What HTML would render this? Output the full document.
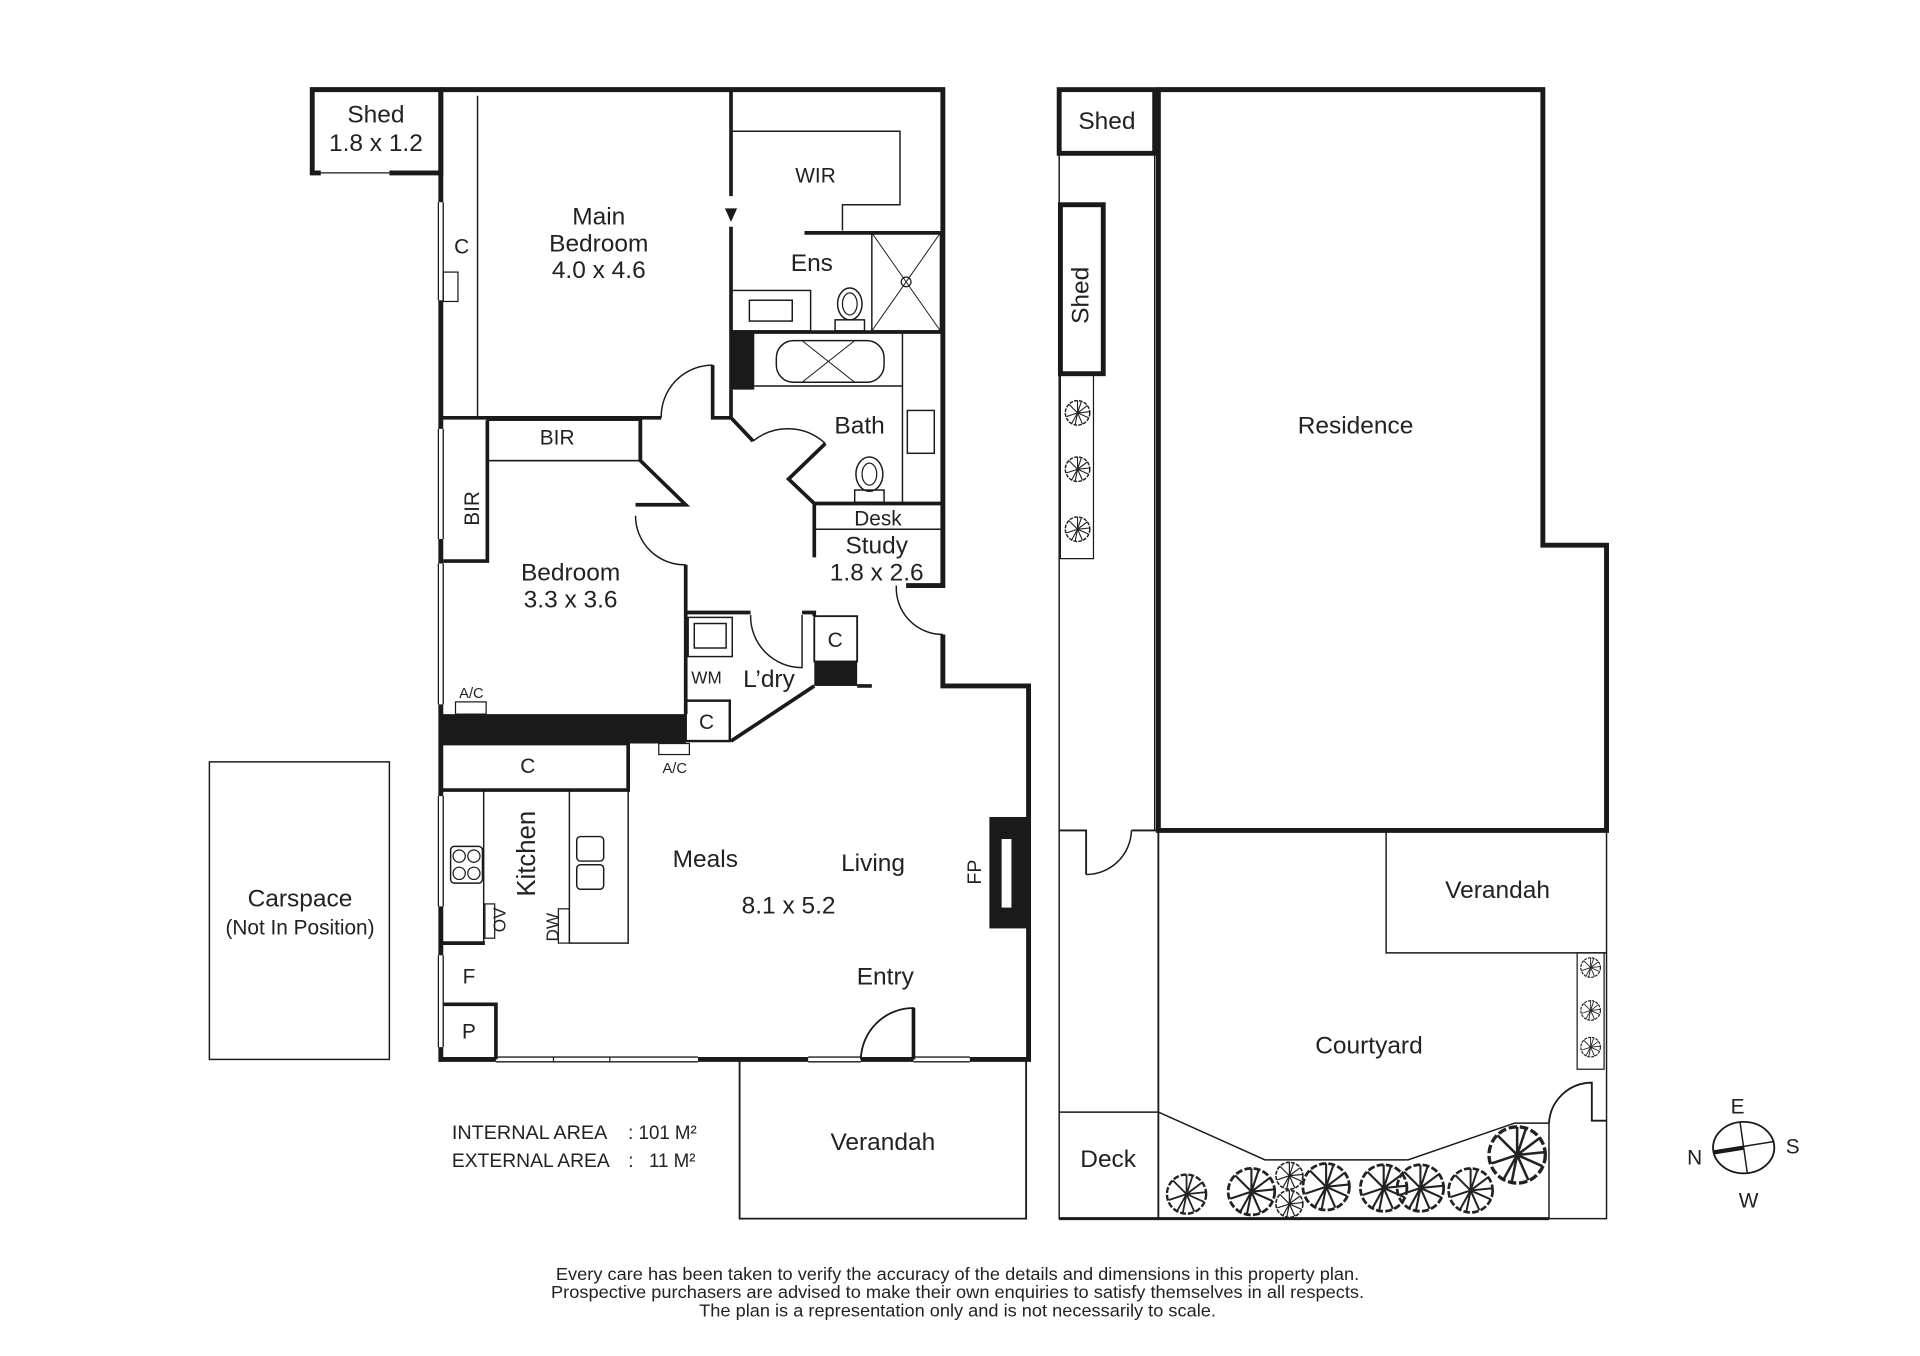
<!DOCTYPE html>
<html><head><meta charset="utf-8"><style>
html,body{margin:0;padding:0;background:#fff;}
svg{display:block;}
text{font-family:"Liberation Sans",Arial,sans-serif;fill:#222;}
</style></head><body>
<svg width="1920" height="1356" viewBox="0 0 1568 1107" xmlns="http://www.w3.org/2000/svg">
<defs>
<g id="tr"><circle r="10" fill="none" stroke="#222" stroke-width="1.2" stroke-dasharray="3 1"/>
<path d="M0 0L0-10M0 0L8-6M0 0L9 4M0 0L4 9M0 0L-5 9M0 0L-9 3M0 0L-7-7M0 0L3-9M0 0L-2 10M0 0L10-1" stroke="#222" stroke-width="0.9"/></g>
</defs>
<g fill="none" stroke="#1a1a1a" stroke-linejoin="miter">
<path d="M262 141H255V73H360V141H318" stroke-width="4"/>
<line x1="262" y1="141" x2="318" y2="141" stroke-width="1"/>
<path d="M360 73H770V478H740" stroke-width="4"/>
<path d="M770 518V560H840V865H360V73" stroke-width="4"/>
<g stroke="#fff" stroke-width="3"><line x1="360" y1="165" x2="360" y2="245"/><line x1="360" y1="350" x2="360" y2="440"/><line x1="360" y1="460" x2="360" y2="575"/><line x1="360" y1="650" x2="360" y2="740"/><line x1="360" y1="780" x2="360" y2="855"/>
<line x1="405" y1="865" x2="570" y2="865"/><line x1="660" y1="865" x2="703" y2="865"/><line x1="746" y1="865" x2="792" y2="865"/></g>
<g stroke-width="1"><path d="M358 165V245M362 165V245M358 350V440M362 350V440M358 460V575M362 460V575M358 650V740M362 650V740M358 780V855M362 780V855"/>
<path d="M405 863H570M405 867H570M660 863H703M660 867H703M746 863H792M746 867H792M452 863V867M498 863V867"/></g>
<rect x="362" y="222" width="12" height="24" stroke-width="1"/>
<line x1="390" y1="78" x2="390" y2="340" stroke-width="1.2"/>
<path d="M597 73V160M597 185V318" stroke-width="3"/>
<path d="M592 170H602L597 181Z" fill="#1a1a1a" stroke="none"/>
<path d="M597 107H735V167H688V188" stroke-width="1.2"/>
<path d="M657 190H768" stroke-width="3"/>
<rect x="712" y="190" width="56" height="80" stroke-width="1.2"/>
<path d="M712 190L768 270M768 190L712 270" stroke-width="0.8"/>
<circle cx="740" cy="230" r="4" stroke-width="1"/>
<rect x="597" y="237" width="65" height="33" stroke-width="1.2"/>
<rect x="612" y="245" width="35" height="17" stroke-width="1.2"/>
<ellipse cx="694" cy="248" rx="10" ry="13" stroke-width="1.2"/><ellipse cx="694" cy="248" rx="6" ry="9" stroke-width="1"/>
<rect x="682" y="261" width="24" height="9" stroke-width="1.2"/>
<path d="M597 271H770" stroke-width="3"/>
<rect x="597" y="272" width="19" height="46" fill="#1a1a1a" stroke="none"/>
<rect x="634" y="278" width="88" height="34" rx="14" stroke-width="1.2"/>
<path d="M655 278L698 312M698 278L655 312" stroke-width="0.8"/>
<path d="M616 315H737M737 272V410" stroke-width="1.2"/>
<rect x="741" y="335" width="22" height="35" stroke-width="1.2"/>
<ellipse cx="710" cy="387" rx="11" ry="14" stroke-width="1.2"/><ellipse cx="710" cy="387" rx="6" ry="9" stroke-width="1"/>
<rect x="698" y="400" width="24" height="10" stroke-width="1.2"/>
<path d="M597 318V341L615 360M674 362L644 391L665 411H770" stroke-width="3"/>
<path d="M615 360A45 45 0 0 1 674 362" stroke-width="1.2"/>
<path d="M665 411V455" stroke-width="3"/>
<line x1="665" y1="432" x2="770" y2="432" stroke-width="1.2"/>
<path d="M732 478A38 38 0 0 0 770 518" stroke-width="1.2"/>
<path d="M360 341H540M582 298V341H597" stroke-width="3"/>
<path d="M540 341A42 42 0 0 1 582 298" stroke-width="1.2"/>
<path d="M523 341V376L560 412H519M560 461V583" stroke-width="3"/>
<path d="M519 421A40 40 0 0 0 560 461" stroke-width="1.2"/>
<rect x="398" y="343" width="124" height="33" stroke-width="1.2"/>
<path d="M398 343V458H362" stroke-width="3"/>
<path d="M398 376H522" stroke-width="1.2"/>
<path d="M560 500H613M655 500H665V503" stroke-width="3"/>
<rect x="562" y="504" width="36" height="32" stroke-width="1.2"/><rect x="567" y="509" width="26" height="20" stroke-width="1.2"/>
<path d="M613 502A42 42 0 0 0 655 545V502" stroke-width="1.2"/>
<rect x="665" y="503" width="35" height="37" stroke-width="1.5"/>
<rect x="665" y="540" width="35" height="20" fill="#1a1a1a" stroke="none"/>
<path d="M700 560H712M665 560L597 605" stroke-width="3"/>
<rect x="560" y="572" width="36" height="33" stroke-width="2"/>
<rect x="360" y="583" width="200" height="24" fill="#1a1a1a" stroke="none"/>
<rect x="372" y="573" width="25" height="10" stroke-width="1"/>
<rect x="538" y="607" width="25" height="9" stroke-width="1"/>
<path d="M360 645H513V607M360 607H513" stroke-width="3"/>
<path d="M395 645V770M360 770H395" stroke-width="1.2"/>
<path d="M360 770H396" stroke-width="3"/>
<rect x="465" y="645" width="48" height="125" stroke-width="1.2"/>
<rect x="456" y="742" width="9" height="28" stroke-width="1"/>
<rect x="396" y="738" width="8" height="28" stroke-width="1"/>
<rect x="368" y="691" width="26" height="30" rx="3" stroke-width="1.2"/>
<circle cx="375" cy="699" r="5" stroke-width="1"/><circle cx="387" cy="699" r="5" stroke-width="1"/><circle cx="375" cy="713" r="5" stroke-width="1"/><circle cx="387" cy="713" r="5" stroke-width="1"/>
<rect x="471" y="683" width="22" height="20" rx="3" stroke-width="1.2"/><rect x="471" y="706" width="22" height="20" rx="3" stroke-width="1.2"/>
<path d="M362 820H405V865" stroke-width="3"/>
<path d="M703 865A43 43 0 0 1 746 823V865" stroke-width="1.5"/>
<path d="M746 823V865" stroke-width="3"/>
<rect x="808" y="667" width="32" height="91" fill="#1a1a1a" stroke="none"/>
<rect x="818" y="685" width="8" height="56" fill="#fff" stroke="none"/>
<path d="M604 866V995H838V866" stroke-width="1.5"/>
<rect x="171" y="622" width="147" height="243" stroke-width="1.2"/>

<rect x="865" y="73" width="78" height="52" stroke-width="4"/>
<rect x="866" y="167" width="35" height="138" stroke-width="4"/>
<path d="M866 305V456H893V305" stroke-width="1"/>
<path d="M946 73H1260V445H1312V678H946Z" stroke-width="4"/>
<path d="M865 125V995H1312V678M943 125V678" stroke-width="1.2"/>
<path d="M865 678H887V714M924 678H946V995" stroke-width="1.5"/>
<path d="M887 714A37 37 0 0 0 924 678" stroke-width="1.2"/>
<path d="M1132 678V778H1312" stroke-width="1.2"/>
<rect x="1288" y="778" width="22" height="95" stroke-width="1"/>
<path d="M865 908H946" stroke-width="1.2"/>
<path d="M946 908L1033 947H1150L1237 917H1265V995" stroke-width="1.2"/>
<path d="M1265 917A35 35 0 0 1 1300 884V915H1312" stroke-width="1.5"/>
<path d="M865 995H1265" stroke-width="2.5"/>
<ellipse cx="1424" cy="937" rx="25" ry="21" stroke-width="1.5"/>
<path d="M1421 916L1427 958M1424 936L1449 932" stroke-width="1.2"/>
<path d="M1399 941L1424 937" stroke-width="3.5"/>
</g>
<g>
<use href="#tr" x="880" y="337"/><use href="#tr" x="880" y="383"/><use href="#tr" x="880" y="432"/>
<use href="#tr" transform="translate(1299 790) scale(.8)"/>
<use href="#tr" transform="translate(1299 825) scale(.8)"/>
<use href="#tr" transform="translate(1299 855) scale(.8)"/>
<use href="#tr" transform="translate(969 975) scale(1.6)"/>
<use href="#tr" transform="translate(1022 973) scale(1.9)"/>
<use href="#tr" transform="translate(1053 960) scale(1.1)"/>
<use href="#tr" transform="translate(1053 983) scale(1.1)"/>
<use href="#tr" transform="translate(1083 969) scale(1.9)"/>
<use href="#tr" transform="translate(1130 970) scale(1.9)"/>
<use href="#tr" transform="translate(1160 970) scale(1.9)"/>
<use href="#tr" transform="translate(1201 972) scale(1.8)"/>
<use href="#tr" transform="translate(1239 943) scale(2.3)"/>
</g>
<g font-size="20" text-anchor="middle">
<text x="307" y="100">Shed</text><text x="307" y="123">1.8 x 1.2</text>
<text x="489" y="183">Main</text><text x="489" y="205">Bedroom</text><text x="489" y="227">4.0 x 4.6</text>
<text x="377" y="207" font-size="17">C</text>
<text x="666" y="149" font-size="17">WIR</text>
<text x="663" y="221">Ens</text>
<text x="702" y="354">Bath</text>
<text x="717" y="429" font-size="17">Desk</text>
<text x="716" y="452">Study</text><text x="716" y="474">1.8 x 2.6</text>
<text x="455" y="363" font-size="17">BIR</text>
<text x="391" y="415" font-size="17" transform="rotate(-90 391 415)">BIR</text>
<text x="466" y="474">Bedroom</text><text x="466" y="496">3.3 x 3.6</text>
<text x="577" y="558" font-size="14">WM</text>
<text x="628" y="561">L’dry</text>
<text x="682" y="528" font-size="17">C</text>
<text x="577" y="595" font-size="17">C</text>
<text x="385" y="570" font-size="12">A/C</text>
<text x="551" y="631" font-size="12">A/C</text>
<text x="431" y="631" font-size="17">C</text>
<text x="437" y="697" font-size="21" transform="rotate(-90 437 697)">Kitchen</text>
<text x="413" y="751" font-size="14" transform="rotate(-90 413 751)">OV</text>
<text x="456" y="757" font-size="14" transform="rotate(-90 456 757)">DW</text>
<text x="576" y="708">Meals</text><text x="713" y="711">Living</text>
<text x="644" y="746">8.1 x 5.2</text>
<text x="801" y="712" font-size="16" transform="rotate(-90 801 712)">FP</text>
<text x="723" y="804">Entry</text>
<text x="383" y="803" font-size="17">F</text><text x="383" y="848" font-size="17">P</text>
<text x="721" y="939">Verandah</text>
<text x="245" y="740">Carspace</text><text x="245" y="763" font-size="17">(Not In Position)</text>
<text x="904" y="105">Shed</text>
<text x="889" y="241" transform="rotate(-90 889 241)">Shed</text>
<text x="1107" y="354">Residence</text>
<text x="1223" y="733">Verandah</text>
<text x="1118" y="860">Courtyard</text>
<text x="905" y="953">Deck</text>
<text x="1419" y="909" font-size="17">E</text><text x="1464" y="942" font-size="17">S</text>
<text x="1384" y="951" font-size="17">N</text><text x="1428" y="986" font-size="17">W</text>
</g>
<g font-size="16" fill="#222">
<text x="369" y="930" textLength="127" lengthAdjust="spacingAndGlyphs">INTERNAL AREA</text><text x="513" y="930" textLength="56" lengthAdjust="spacingAndGlyphs">: 101 M²</text>
<text x="369" y="953" textLength="129" lengthAdjust="spacingAndGlyphs">EXTERNAL AREA</text><text x="513" y="953">:</text><text x="530" y="953" textLength="38" lengthAdjust="spacingAndGlyphs">11 M²</text>
</g>
<g font-size="14.5" text-anchor="middle">
<text x="782" y="1045" textLength="656" lengthAdjust="spacingAndGlyphs">Every care has been taken to verify the accuracy of the details and dimensions in this property plan.</text>
<text x="782" y="1060" textLength="664" lengthAdjust="spacingAndGlyphs">Prospective purchasers are advised to make their own enquiries to satisfy themselves in all respects.</text>
<text x="782" y="1075" textLength="422" lengthAdjust="spacingAndGlyphs">The plan is a representation only and is not necessarily to scale.</text>
</g>
</svg>
</body></html>
